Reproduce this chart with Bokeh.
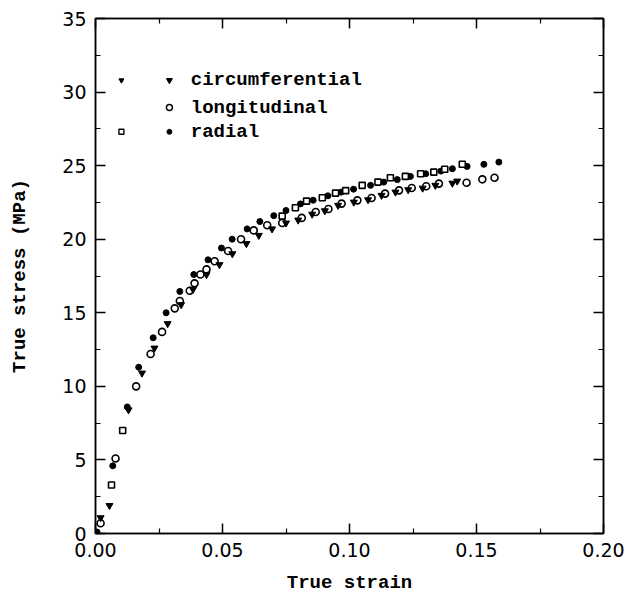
from bokeh.plotting import figure
from bokeh.models import LinearAxis, Range1d, Label, FixedTicker, NumeralTickFormatter
from bokeh.embed import file_html
from bokeh.resources import INLINE

# ---- data ----
radial_dot_strain = [0.0006, 0.0068, 0.0125, 0.0170, 0.0227, 0.0278, 0.0332, 0.0387, 0.0443, 0.0496,
                     0.0538, 0.0597, 0.0647, 0.0702, 0.0750, 0.0807, 0.0857, 0.0915, 0.0967, 0.1016,
                     0.1083, 0.1135, 0.1188, 0.1240, 0.1300, 0.1360, 0.1405, 0.1463, 0.1529, 0.1588]
radial_dot_stress = [0.1, 4.6, 8.6, 11.3, 13.3, 15.0, 16.45, 17.6, 18.6, 19.4,
                     20.0, 20.7, 21.2, 21.6, 21.95, 22.4, 22.65, 22.95, 23.2, 23.4,
                     23.66, 23.88, 24.05, 24.27, 24.45, 24.63, 24.79, 24.95, 25.09, 25.24]

radial_sq_strain = [0.0063, 0.0107, 0.0735, 0.0787, 0.0831, 0.0893, 0.0945, 0.0985, 0.1050, 0.1112,
                    0.1161, 0.1220, 0.1280, 0.1332, 0.1375, 0.1444]
radial_sq_stress = [3.3, 7.0, 21.57, 22.14, 22.59, 22.82, 23.13, 23.3, 23.66, 23.88,
                    24.18, 24.27, 24.45, 24.56, 24.75, 25.09]

long_strain = [0.0020, 0.0079, 0.0160, 0.0217, 0.0262, 0.0312, 0.0332, 0.0371, 0.0390, 0.0413,
               0.0437, 0.0469, 0.0522, 0.0573, 0.0623, 0.0676, 0.0735, 0.0812, 0.0867, 0.0917,
               0.0969, 0.1031, 0.1087, 0.1140, 0.1195, 0.1245, 0.1302, 0.1352, 0.1461, 0.1523, 0.1571]
long_stress = [0.7, 5.1, 10.0, 12.2, 13.7, 15.3, 15.8, 16.5, 17.0, 17.6,
               17.95, 18.5, 19.2, 20.0, 20.6, 20.95, 21.1, 21.45, 21.85, 22.05,
               22.42, 22.64, 22.8, 23.1, 23.32, 23.48, 23.6, 23.78, 23.84, 24.07, 24.18]

circ_strain = [0.0020, 0.0055, 0.0130, 0.0183, 0.0232, 0.0284, 0.0337, 0.0384, 0.0437, 0.0488,
               0.0539, 0.0594, 0.0643, 0.0695, 0.0750, 0.0798, 0.0853, 0.0903, 0.0955, 0.1017,
               0.1073, 0.1126, 0.1181, 0.1231, 0.1288, 0.1338, 0.1405, 0.1424]
circ_stress = [1.07, 1.9, 8.4, 10.9, 12.6, 14.26, 15.55, 16.59, 17.59, 18.27,
               19.01, 19.7, 20.26, 20.7, 21.1, 21.3, 21.7, 21.93, 22.3, 22.52,
               22.68, 22.98, 23.2, 23.36, 23.47, 23.66, 23.81, 23.95]

x_ticks = [0.0, 0.05, 0.10, 0.15, 0.20]
x_minor = [0.025, 0.075, 0.125, 0.175]
y_ticks = [0, 5, 10, 15, 20, 25, 30, 35]
y_minor = [2.5, 7.5, 12.5, 17.5, 22.5, 27.5, 32.5]

legend_labels = ["circumferential", "longitudinal", "radial"]

# ---- figure ----
TICK_FONT = "DejaVu Sans"
MONO = "Liberation Mono"

p = figure(width=631, height=600, x_range=Range1d(0, 0.2), y_range=Range1d(0, 35),
           output_backend="svg", toolbar_location=None,
           min_border_left=95, min_border_right=28, min_border_top=18, min_border_bottom=67)
p.xgrid.visible = False
p.ygrid.visible = False
p.outline_line_color = "black"
p.outline_line_width = 1.5
p.background_fill_color = "white"
p.border_fill_color = "white"

def style_axis(ax, ticks, minor, show_labels):
    ax.ticker = FixedTicker(ticks=ticks, minor_ticks=minor)
    ax.major_tick_in = 10
    ax.major_tick_out = 0
    ax.minor_tick_in = 5
    ax.minor_tick_out = 0
    ax.major_tick_line_color = "black"
    ax.minor_tick_line_color = "black"
    ax.major_tick_line_width = 1.5
    ax.minor_tick_line_width = 1.2
    ax.axis_line_color = "black"
    ax.axis_line_width = 1.5
    if show_labels:
        ax.major_label_text_font = TICK_FONT
        ax.major_label_text_font_size = "19px"
        ax.major_label_text_color = "black"
        ax.major_label_standoff = 9
    else:
        ax.major_label_text_font_size = "0px"
        ax.major_label_standoff = 0

xb = p.xaxis[0]
yl = p.yaxis[0]
style_axis(xb, x_ticks, x_minor, True)
style_axis(yl, y_ticks, y_minor, True)
xb.formatter = NumeralTickFormatter(format="0.00")
yl.formatter = NumeralTickFormatter(format="0")
xb.axis_label = "True strain"
yl.axis_label = "True stress (MPa)"
for ax in (xb, yl):
    ax.axis_label_text_font = MONO
    ax.axis_label_text_font_size = "19px"
    ax.axis_label_text_font_style = "bold"
    ax.axis_label_text_color = "black"
xb.axis_label_standoff = 12
yl.axis_label_standoff = 28

xt = LinearAxis()
yr = LinearAxis()
style_axis(xt, x_ticks, x_minor, False)
style_axis(yr, y_ticks, y_minor, False)
p.add_layout(xt, "above")
p.add_layout(yr, "right")

# ---- data markers ----
p.scatter(radial_dot_strain, radial_dot_stress, marker="circle", size=6,
          fill_color="black", line_color="black", line_width=1)
p.scatter(radial_sq_strain, radial_sq_stress, marker="square", size=6,
          fill_color="white", line_color="black", line_width=1.6)
p.scatter(long_strain, long_stress, marker="circle", size=7,
          fill_color="white", line_color="black", line_width=1.6)
p.scatter(circ_strain, circ_stress, marker="inverted_triangle", size=7,
          fill_color="black", line_color="black", line_width=1)

# ---- legend (two marker columns + text) ----
row_y = [30.8, 28.95, 27.3]
col1_x = 0.0102
col2_x = 0.0291
text_x = 0.0375
p.scatter([col1_x], [row_y[0]], marker="inverted_triangle", size=5, fill_color="black", line_color="black")
p.scatter([col1_x], [row_y[2]], marker="square", size=5, fill_color="white", line_color="black", line_width=1.4)
p.scatter([col2_x], [row_y[0]], marker="inverted_triangle", size=6, fill_color="black", line_color="black")
p.scatter([col2_x], [row_y[1]], marker="circle", size=6, fill_color="white", line_color="black", line_width=1.4)
p.scatter([col2_x], [row_y[2]], marker="circle", size=5, fill_color="black", line_color="black")
for lab, yy in zip(legend_labels, row_y):
    p.add_layout(Label(x=text_x, y=yy, text=lab, text_font=MONO, text_font_size="19px",
                       text_font_style="bold", text_baseline="middle", text_align="left",
                       text_color="black"))

open("out.html", "w").write(file_html(p, INLINE))
